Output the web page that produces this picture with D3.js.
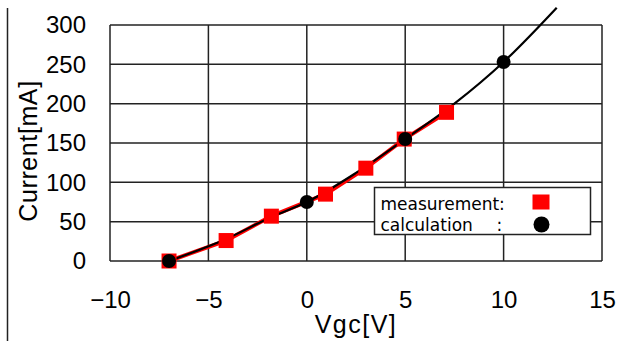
<!DOCTYPE html>
<html>
<head>
<meta charset="utf-8">
<script src="https://cdn.jsdelivr.net/npm/d3@7"></script>
<style>
  body { margin: 0; background: #fff; }
  svg { display: block; font-family: "Liberation Sans", Arial, sans-serif; }
</style>
</head>
<body>
<svg id="chart" width="626" height="341"></svg>
<script>
// measured points (red squares)
const measVgc = [-7, -4.1, -1.8, 0.95, 3.0, 4.95, 7.1];
const measCurrent = [0, 26, 57, 85, 118, 155, 189];

// calculated curve
const calcVgc = [-7, -4.1, -1.8, 0, 2.5, 5, 7.5, 10, 12.7];
const calcCurrent = [0, 28, 56, 75, 112, 155, 200, 253, 322];

// calculated marker points (black circles)
const calcPtVgc = [-7, 0, 5, 10];
const calcPtCurrent = [0, 75, 155, 253];

const xTicks = [-10, -5, 0, 5, 10, 15];
const yTicks = [0, 50, 100, 150, 200, 250, 300];

const svg = d3.select("#chart");
const margin = { top: 25, right: 24, bottom: 80, left: 110 };
const width = 626 - margin.left - margin.right;
const height = 341 - margin.top - margin.bottom;

const x = d3.scaleLinear().domain([-10, 15]).range([0, width]);
const y = d3.scaleLinear().domain([0, 300]).range([height, 0]);

// left edge rule of the source figure
svg.append("line")
  .attr("x1", 7.5).attr("x2", 7.5)
  .attr("y1", 8).attr("y2", 341)
  .attr("stroke", "#222").attr("stroke-width", 1.5);

const g = svg.append("g")
  .attr("transform", `translate(${margin.left},${margin.top})`);

// grid
g.append("g")
  .selectAll("line")
  .data(xTicks)
  .join("line")
  .attr("x1", (d) => x(d)).attr("x2", (d) => x(d))
  .attr("y1", 0).attr("y2", height)
  .attr("stroke", "#222").attr("stroke-width", 1.5);

g.append("g")
  .selectAll("line")
  .data(yTicks)
  .join("line")
  .attr("x1", 0).attr("x2", width)
  .attr("y1", (d) => y(d)).attr("y2", (d) => y(d))
  .attr("stroke", "#222").attr("stroke-width", 1.5);

// axes (labels only)
const fmt = (d) => (d < 0 ? "\u2212" + Math.abs(d) : String(d));

const xAxis = g.append("g")
  .attr("transform", `translate(0,${height})`)
  .call(d3.axisBottom(x).tickValues(xTicks).tickFormat(fmt).tickSize(0).tickPadding(30));
xAxis.select(".domain").remove();
xAxis.selectAll("text").attr("font-size", 24).attr("fill", "#000")
  .attr("font-family", "Liberation Sans, Arial, sans-serif");

const yAxis = g.append("g")
  .call(d3.axisLeft(y).tickValues(yTicks).tickSize(0).tickPadding(24));
yAxis.select(".domain").remove();
yAxis.selectAll("text").attr("font-size", 24).attr("fill", "#000")
  .attr("font-family", "Liberation Sans, Arial, sans-serif");

// axis titles
svg.append("text")
  .attr("x", 356).attr("y", 333)
  .attr("text-anchor", "middle")
  .attr("font-size", 25)
  .attr("letter-spacing", 1.5)
  .text("Vgc[V]");

svg.append("text")
  .attr("transform", "translate(37,151) rotate(-90)")
  .attr("text-anchor", "middle")
  .attr("font-size", 25)
  .attr("letter-spacing", 0.6)
  .text("Current[mA]");

// measurement line
const meas = measVgc.map((v, i) => ({ v, c: measCurrent[i] }));
const calc = calcVgc.map((v, i) => ({ v, c: calcCurrent[i] }));
const calcPts = calcPtVgc.map((v, i) => ({ v, c: calcPtCurrent[i] }));

g.append("path")
  .datum(meas)
  .attr("fill", "none")
  .attr("stroke", "#ff0000")
  .attr("stroke-width", 4)
  .attr("d", d3.line().x((d) => x(d.v)).y((d) => y(d.c)));

// calculation curve
g.append("path")
  .datum(calc)
  .attr("fill", "none")
  .attr("stroke", "#000")
  .attr("stroke-width", 2.2)
  .attr("d", d3.line().curve(d3.curveMonotoneX).x((d) => x(d.v)).y((d) => y(d.c)));

// measurement squares
const sq = 15;
g.selectAll(".meas")
  .data(meas)
  .join("rect")
  .attr("class", "meas")
  .attr("x", (d) => x(d.v) - sq / 2)
  .attr("y", (d) => y(d.c) - sq / 2)
  .attr("width", sq).attr("height", sq)
  .attr("fill", "#ff0000");

// calculation circles
g.selectAll(".calc")
  .data(calcPts)
  .join("circle")
  .attr("class", "calc")
  .attr("cx", (d) => x(d.v))
  .attr("cy", (d) => y(d.c))
  .attr("r", 7)
  .attr("fill", "#000");

// legend
const lg = svg.append("g").attr("transform", "translate(374.5,187.5)");
lg.append("rect")
  .attr("width", 216).attr("height", 47)
  .attr("fill", "#fff").attr("stroke", "#222").attr("stroke-width", 1.5);
lg.append("text").attr("x", 6).attr("y", 22)
  .attr("font-family", "DejaVu Sans").attr("font-size", 17).text("measurement:");
lg.append("text").attr("x", 6).attr("y", 43)
  .attr("font-family", "DejaVu Sans").attr("font-size", 17).text("calculation");
lg.append("text").attr("x", 122).attr("y", 43)
  .attr("font-family", "DejaVu Sans").attr("font-size", 17).text(":");
lg.append("rect").attr("x", 158).attr("y", 7).attr("width", 17).attr("height", 15).attr("fill", "#ff0000");
lg.append("circle").attr("cx", 167).attr("cy", 37).attr("r", 8).attr("fill", "#000");
</script>
</body>
</html>
